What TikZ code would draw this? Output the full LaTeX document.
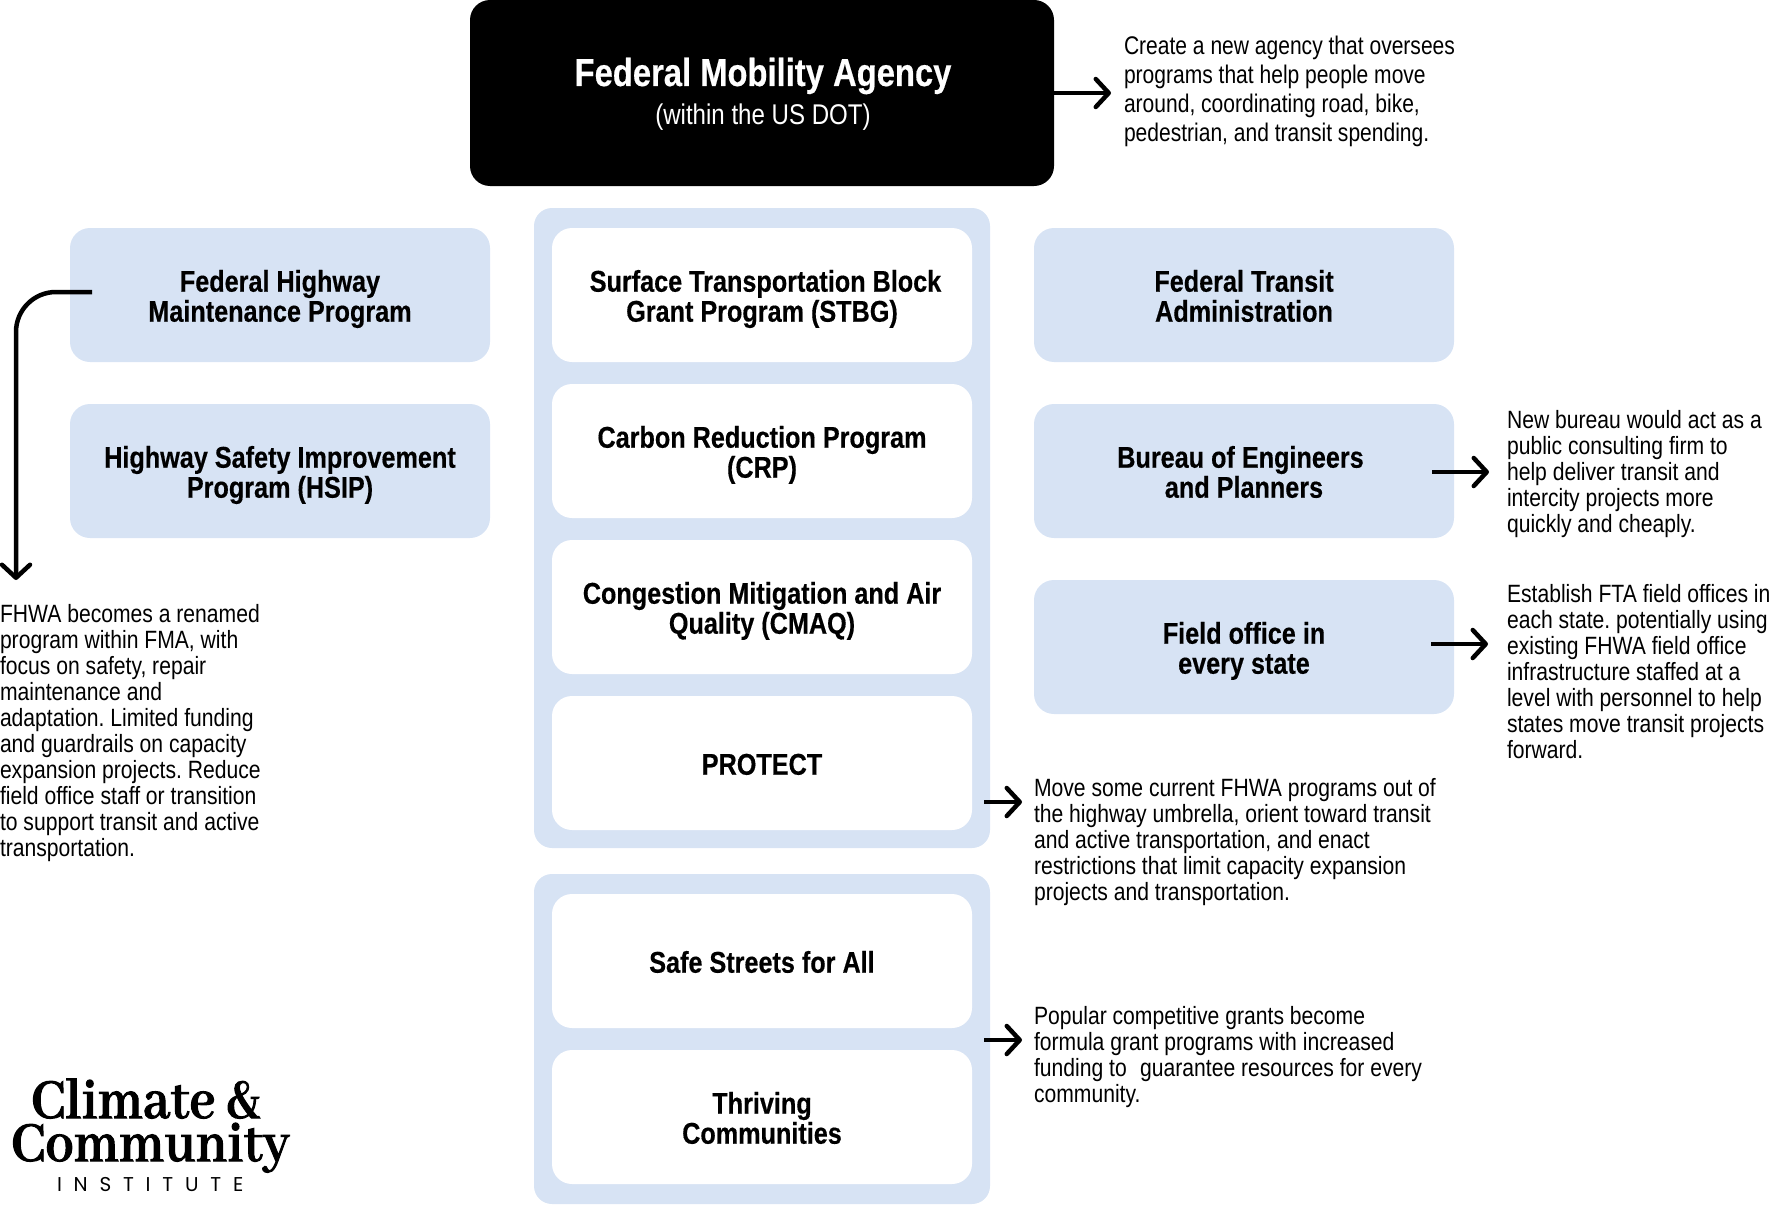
\documentclass[tikz,border=0pt]{standalone}
\usepackage{fontspec}
\usetikzlibrary{arrows.meta}
\setmainfont{Liberation Sans}
\newfontfamily\cond[FakeStretch=0.845]{Liberation Sans}
\newfontfamily\condtop[FakeStretch=0.825]{Liberation Sans}
\newfontfamily\condb[FakeStretch=0.84,FakeBold=0.4]{Liberation Sans Bold}
\newfontfamily\logofont[FakeStretch=0.92,FakeBold=1.6]{Abhaya Libre}
\newfontfamily\instfont[LetterSpace=59]{Poppins}
\definecolor{paleblue}{HTML}{D7E3F4}
\newcommand{\fs}[2]{\fontsize{#1pt}{#2pt}\selectfont\lineskiplimit=-100pt\frenchspacing}
\newcommand{\st}{\rule[-6.6pt]{0pt}{36.6pt}}
\tikzset{
  x=1pt,y=-1pt,
  every node/.style={inner sep=0pt,outer sep=0pt},
  panel/.style={fill=paleblue,rounded corners=18pt},
  bluebox/.style={fill=paleblue,rounded corners=20pt,minimum width=420pt,minimum height=134pt,align=center,font=\condb\fs{30}{30}},
  whitebox/.style={fill=white,rounded corners=20pt,minimum width=420pt,minimum height=134pt,align=center,font=\condb\fs{30}{30}},
  note/.style={anchor=north west,align=left,font=\cond\fs{25}{26}},
  topnote/.style={anchor=north west,align=left,font=\condtop\fs{25.5}{29}},
  conn/.style={line width=4.5pt,-{Straight Barb[length=13pt,width=28pt,line width=4.5pt,round]}},
}
\begin{document}
\begin{tikzpicture}
\useasboundingbox (0,0) rectangle (1776,1204);
% panels
\fill[panel] (534,208) rectangle (990,848);
\fill[panel] (534,874) rectangle (990,1204);
% top box
\node[fill=black,rounded corners=20pt,minimum width=584pt,minimum height=186pt,text=white,align=center] (fma) at (762,93) {};
\node[text=white,font=\condb\fs{39}{40}] (fmatitle) at (763,76) {Federal Mobility Agency};
\node[text=white,font=\cond\fs{28.5}{30}] (fmasub) at (763,117) {(within the US DOT)};
% left boxes
\node[bluebox] (fhmp) at (280,295) {\st Federal Highway\\\st Maintenance Program};
\node[bluebox] (hsip) at (280,471) {\st Highway Safety Improvement\\\st Program (HSIP)};
% centre boxes
\node[whitebox] (stbg) at (762,295) {\st\hspace{7pt}Surface Transportation Block\\\st Grant Program (STBG)};
\node[whitebox] (crp) at (762,451) {\st Carbon Reduction Program\\\st (CRP)};
\node[whitebox] (cmaq) at (762,607) {\st Congestion Mitigation and Air\\\st Quality (CMAQ)};
\node[whitebox] (protect) at (762,763) {\st PROTECT};
\node[whitebox] (ssfa) at (762,961) {\st Safe Streets for All};
\node[whitebox] (thriving) at (762,1117) {\st Thriving\\\st Communities};
% right boxes
\node[bluebox] (fta) at (1244,295) {\st Federal Transit\\\st Administration};
\node[bluebox] (bureau) at (1244,471) {\st Bureau of Engineers\hspace*{7pt}\\\st and Planners};
\node[bluebox] (field) at (1244,647) {\st Field office in\\\st every state};
% notes
\node[topnote] (n1) at (1124,36) {Create a new agency that oversees\\programs that help people move\\around, coordinating road, bike,\\pedestrian, and transit spending.};
\node[note] (n2) at (1507,410) {New bureau would act as a\\public consulting firm to\\help deliver transit and\\intercity projects more\\quickly and cheaply.};
\node[note] (n3) at (1507,584) {Establish FTA field offices in\\each state. potentially using\\existing FHWA field office\\infrastructure staffed at a\\level with personnel to help\\states move transit projects\\forward.};
\node[note] (n4) at (1034,778) {Move some current FHWA programs out of\\the highway umbrella, orient toward transit\\and active transportation, and enact\\restrictions that limit capacity expansion\\projects and transportation.};
\node[note] (n5) at (1034,1006) {Popular competitive grants become\\formula grant programs with increased\\funding to\hspace{0.3em} guarantee resources for every\\community.};
\node[note] (n6) at (0,604) {FHWA becomes a renamed\\program within FMA, with\\focus on safety, repair\\maintenance and\\adaptation. Limited funding\\and guardrails on capacity\\expansion projects. Reduce\\field office staff or transition\\to support transit and active\\transportation.};
% logo
\node[anchor=base west,font=\logofont\bfseries\fs{62}{60}] (logo1) at (31,1118) {Climate \&};
\node[anchor=base west,font=\logofont\bfseries\fs{62}{60}] (logo2) at (11,1161) {Community};
\node[anchor=base west,font=\instfont\fs{20}{21}] (logo3) at (57,1191) {INSTITUTE};
% connectors
\coordinate (a1e) at (1111,93);
\draw[conn] (fma.east) -- (a1e);
\coordinate (a2s) at (1432,472);
\coordinate (a2e) at (1489,472);
\draw[conn] (a2s) -- (a2e);
\coordinate (a3s) at (1431,644);
\coordinate (a3e) at (1488,644);
\draw[conn] (a3s) -- (a3e);
\coordinate (a4s) at (984,802);
\coordinate (a4e) at (1022,802);
\draw[conn] (a4s) -- (a4e);
\coordinate (a5s) at (984,1040);
\coordinate (a5e) at (1022,1040);
\draw[conn] (a5s) -- (a5e);
\coordinate (a6s) at (92,292);
\coordinate (a6e) at (16,580);
\draw[conn,rounded corners=40pt] (a6s) -- (16,292) -- (a6e);
\end{tikzpicture}
\end{document}
